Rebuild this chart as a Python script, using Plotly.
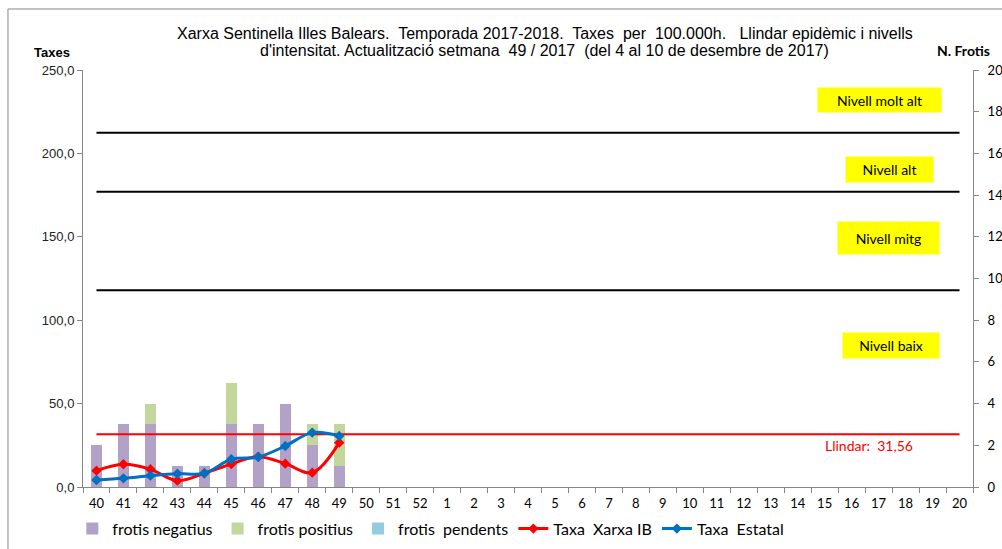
import plotly.graph_objects as go

weeks = ["40", "41", "42", "43", "44", "45", "46", "47", "48", "49", "50", "51", "52",
         "1", "2", "3", "4", "5", "6", "7", "8", "9", "10", "11", "12", "13", "14",
         "15", "16", "17", "18", "19", "20"]
data_weeks = ["40", "41", "42", "43", "44", "45", "46", "47", "48", "49"]
frotis_negatius = [2, 3, 3, 1, 1, 3, 3, 4, 2, 1]
frotis_positius = [0, 0, 1, 0, 0, 2, 0, 0, 1, 2]
frotis_pendents = [0, 0, 0, 0, 0, 0, 0, 0, 0, 0]
taxa_xarxa_ib = [9.8, 13.6, 10.6, 3.8, 8.2, 13.8, 18.2, 14.0, 8.6, 26.6]
taxa_estatal = [4.2, 5.2, 6.8, 8.0, 8.2, 16.6, 18.0, 24.6, 32.6, 30.6]
llindar = 31.56
nivells = [118.0, 177.0, 212.4]
nivell_labels = ["Nivell baix", "Nivell mitg", "Nivell alt", "Nivell molt alt"]
nivell_label_y = [84.8, 149.3, 190.3, 232.0]

CAL = "Lato, Carlito, Calibri, sans-serif"
ARIAL = "Liberation Sans, Arial, sans-serif"

fig = go.Figure()
fig.add_trace(go.Bar(x=data_weeks, y=frotis_negatius, name="frotis negatius",
                     marker=dict(color="#B3A2C7", line=dict(width=0)), yaxis="y"))
fig.add_trace(go.Bar(x=data_weeks, y=frotis_positius, name="frotis positius",
                     marker=dict(color="#C3D69B", line=dict(width=0)), yaxis="y"))
fig.add_trace(go.Bar(x=data_weeks, y=frotis_pendents, name="frotis  pendents",
                     marker=dict(color="#93CDDD", line=dict(width=0)), yaxis="y"))

# level lines and threshold (from first to last week)
for lv in nivells:
    fig.add_trace(go.Scatter(x=[weeks[0], weeks[-1]], y=[lv, lv], mode="lines",
                             line=dict(color="#000000", width=2), yaxis="y2",
                             showlegend=False, hoverinfo="skip"))
fig.add_trace(go.Scatter(x=[weeks[0], weeks[-1]], y=[llindar, llindar], mode="lines",
                         line=dict(color="#FF0000", width=2), yaxis="y2",
                         showlegend=False, hoverinfo="skip"))

fig.add_trace(go.Scatter(x=data_weeks, y=taxa_xarxa_ib, name="Taxa  Xarxa IB",
                         mode="lines+markers", line=dict(color="#FF0000", width=3, shape="spline"),
                         marker=dict(symbol="diamond", size=8, color="#FF0000"), yaxis="y2"))
fig.add_trace(go.Scatter(x=data_weeks, y=taxa_estatal, name="Taxa  Estatal",
                         mode="lines+markers", line=dict(color="#0070C0", width=3, shape="spline"),
                         marker=dict(symbol="diamond", size=8, color="#0070C0"), yaxis="y2"))

title_lines = [
    "Xarxa Sentinella Illes Balears.  Temporada 2017-2018.  Taxes  per  100.000h.   Llindar epidèmic i nivells",
    "d'intensitat. Actualització setmana  49 / 2017  (del 4 al 10 de desembre de 2017)",
]
annotations = [
    dict(text=title_lines[0], xref="paper", yref="paper", x=0.519, y=1, xanchor="center",
         yanchor="middle", yshift=70 - 33, showarrow=False,
         font=dict(family=ARIAL, size=16, color="#000")),
    dict(text=title_lines[1], xref="paper", yref="paper", x=0.519, y=1, xanchor="center",
         yanchor="middle", yshift=70 - 50, showarrow=False,
         font=dict(family=ARIAL, size=16, color="#000")),
    dict(text="<b>Taxes</b>", xref="paper", yref="paper", x=-0.035, y=1, xanchor="center",
         yanchor="middle", yshift=70 - 52, showarrow=False,
         font=dict(family=ARIAL, size=13, color="#000")),
    dict(text="<b>N. Frotis</b>", xref="paper", yref="paper", x=0.989, y=1, xanchor="center",
         yanchor="middle", yshift=70 - 50, showarrow=False,
         font=dict(family=CAL, size=14, color="#000")),
    dict(text="Llindar:  31,56", xref="paper", yref="y2", x=0.883, y=24.6, xanchor="center",
         yanchor="middle", showarrow=False, font=dict(family=CAL, size=14, color="#FF0000")),
]
box_w = [94, 99, 85, 121]
box_h = [23, 30, 23, 22]
box_x = [0.9079, 0.9050, 0.9061, 0.8955]
for lab, yy, w, h, xx in zip(nivell_labels, nivell_label_y, box_w, box_h, box_x):
    annotations.append(dict(text=lab, xref="paper", yref="y2", x=xx, y=yy, xanchor="center",
                            yanchor="middle", showarrow=False, width=w, height=h,
                            bgcolor="#FFFF00", font=dict(family=CAL, size=14, color="#000")))

fig.update_layout(
    width=1002, height=549,
    margin=dict(l=83, r=29, t=70, b=62, autoexpand=False),
    paper_bgcolor="#FFFFFF", plot_bgcolor="#FFFFFF",
    barmode="stack", bargap=0.59,
    separators=",.",
    showlegend=True,
    legend=dict(orientation="h", x=-0.012, y=-0.1, xanchor="left", yanchor="middle",
                font=dict(family=CAL, size=16, color="#000"), itemwidth=30,
                tracegroupgap=0, traceorder="normal"),
    xaxis=dict(type="category", categoryorder="array", categoryarray=weeks,
               range=[-0.5, len(weeks) - 0.5], showgrid=False, zeroline=False,
               showline=True, linecolor="#868686", linewidth=1,
               ticks="outside", tickson="boundaries", ticklen=5, tickcolor="#868686",
               ticklabelstandoff=4,
               tickfont=dict(family=CAL, size=13, color="#000")),
    yaxis=dict(side="right", range=[0, 20], dtick=2, showgrid=False, zeroline=False,
               showline=True, linecolor="#868686", linewidth=1, ticks="outside",
               ticklen=5, tickcolor="#868686", tickformat="d", ticklabelstandoff=6,
               tickfont=dict(family=CAL, size=13, color="#000")),
    yaxis2=dict(side="left", overlaying="y", range=[0, 250], dtick=50, showgrid=False,
                zeroline=False, showline=True, linecolor="#868686", linewidth=1,
                ticks="outside", ticklen=5, tickcolor="#868686", tickformat=".1f",
                tickfont=dict(family=ARIAL, size=13, color="#222")),
    annotations=annotations,
    shapes=[dict(type="rect", xref="paper", yref="paper", x0=-0.0843, x1=1.2,
                 y0=-0.5, y1=1.1463, line=dict(color="#868686", width=1),
                 fillcolor="rgba(0,0,0,0)", layer="below")],
)

fig.write_html("out.html", config={"displayModeBar": False},
               post_script="document.body.style.margin='0';document.body.style.overflow='hidden';")
